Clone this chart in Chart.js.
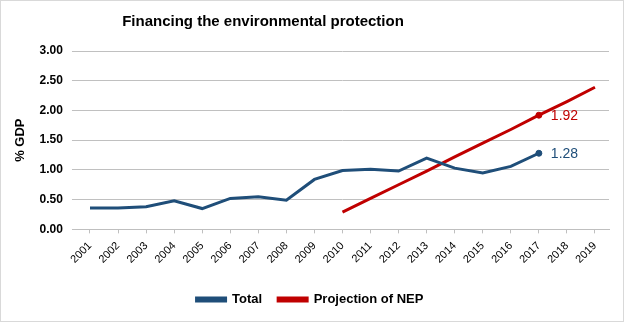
<!DOCTYPE html>
<html>
<head>
<meta charset="utf-8">
<script src="https://cdn.jsdelivr.net/npm/chart.js@4/dist/chart.umd.min.js"></script>
<style>
  html, body { margin: 0; padding: 0; background: #fff; }
  #wrap { position: relative; width: 622px; height: 320px; border: 1px solid #d9d9d9; }
</style>
</head>
<body>
<div id="wrap"><canvas id="chart" width="622" height="320"></canvas></div>
<script>
const years = ['2001','2002','2003','2004','2005','2006','2007','2008','2009','2010',
               '2011','2012','2013','2014','2015','2016','2017','2018','2019'];
const totalValues = [0.36, 0.36, 0.38, 0.48, 0.35, 0.52, 0.55, 0.49, 0.84, 0.99,
                     1.01, 0.98, 1.20, 1.03, 0.95, 1.06, 1.28, null, null];
const nepValues = [null, null, null, null, null, null, null, null, null, 0.29,
                   0.52, 0.75, 0.98, 1.22, 1.45, 1.68, 1.92, 2.15, 2.39];
const labelYear = '2017';
const yTicks = [0, 0.5, 1, 1.5, 2, 2.5, 3];

const blue = '#1f4e79';
const red = '#c00000';
const markIdx = years.indexOf(labelYear);
const legendPad = 16;

const endLabels = {
    id: 'endLabels',
    afterDatasetsDraw(chart) {
        const ctx = chart.ctx;
        ctx.save();
        ctx.font = '14px "Liberation Sans", sans-serif';
        ctx.textBaseline = 'middle';
        chart.data.datasets.forEach((ds, i) => {
            const pt = chart.getDatasetMeta(i).data[markIdx];
            ctx.fillStyle = ds.borderColor;
            ctx.fillText(ds.data[markIdx].toFixed(2), pt.x + 12, pt.y + 1);
        });
        ctx.restore();
    }
};

// legend row near the bottom edge, title centred a bit left, like the original
const placeBlocks = {
    id: 'placeBlocks',
    afterLayout(chart) {
        const lg = chart.legend;
        if (lg) {
            const shift = 299 - (lg.top + legendPad + 7);
            lg.top += shift;
            lg.bottom += shift;
        }
        const tb = chart.titleBlock;
        if (tb) {
            tb.right = 2 * 262 - tb.left;
        }
    }
};

function radii() {
    return years.map((y, i) => i === markIdx ? 3 : 0);
}

new Chart(document.getElementById('chart').getContext('2d'), {
    type: 'line',
    data: {
        labels: years,
        datasets: [{
            label: 'Total',
            data: totalValues,
            borderColor: blue,
            backgroundColor: blue,
            borderWidth: 3,
            pointRadius: radii(),
            pointBorderWidth: 1,
            pointHoverRadius: 0,
            tension: 0
        }, {
            label: 'Projection of NEP',
            data: nepValues,
            borderColor: red,
            backgroundColor: red,
            borderWidth: 3,
            pointRadius: radii(),
            pointBorderWidth: 1,
            pointHoverRadius: 0,
            tension: 0
        }]
    },
    options: {
        responsive: false,
        animation: false,
        layout: { padding: { left: 10, right: 14, top: 4, bottom: 10 } },
        plugins: {
            title: {
                display: true,
                text: 'Financing the environmental protection',
                color: '#000',
                font: { family: '"Liberation Sans", sans-serif', size: 15, weight: 'bold' },
                padding: { top: 8, bottom: 20 }
            },
            legend: {
                position: 'bottom',
                labels: {
                    color: '#000',
                    font: { family: '"Liberation Sans", sans-serif', size: 13, weight: 'bold' },
                    boxWidth: 29,
                    boxHeight: 3,
                    padding: legendPad
                }
            },
            tooltip: { enabled: false }
        },
        scales: {
            x: {
                offset: true,
                grid: { display: true, drawOnChartArea: false, drawTicks: true, tickLength: 4, color: '#bfbfbf' },
                border: { color: '#bfbfbf' },
                ticks: {
                    color: '#000',
                    maxRotation: 45,
                    minRotation: 45,
                    padding: 6,
                    font: { family: '"Liberation Sans", sans-serif', size: 11 }
                }
            },
            y: {
                min: 0,
                max: 3,
                afterBuildTicks: axis => { axis.ticks = yTicks.map(v => ({ value: v })); },
                grid: { color: '#c0c0c0', drawTicks: true, tickLength: 4 },
                border: { display: false },
                title: {
                    display: true,
                    text: '% GDP',
                    color: '#000',
                    padding: { top: 2, bottom: 2 },
                    font: { family: '"Liberation Sans", sans-serif', size: 13, weight: 'bold' }
                },
                ticks: {
                    color: '#000',
                    padding: 9,
                    callback: v => v.toFixed(2),
                    font: { family: '"Liberation Sans", sans-serif', size: 12, weight: 'bold' }
                }
            }
        }
    },
    plugins: [endLabels, placeBlocks]
});
</script>
</body>
</html>
